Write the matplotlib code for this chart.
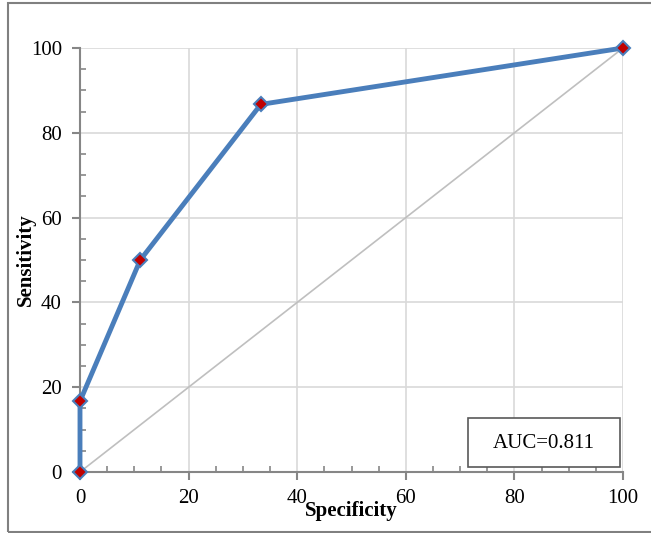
import matplotlib
matplotlib.use("Agg")
import matplotlib.pyplot as plt
from matplotlib.patches import Rectangle
from matplotlib.ticker import MultipleLocator

# ROC points (specificity axis as drawn, sensitivity)
specificity = [0, 0, 11.1, 33.3, 100]
sensitivity = [0, 16.7, 50, 86.7, 100]
ref_line = [0, 100]
auc_text = "AUC=0.811"

plt.rcParams['font.family'] = ['Liberation Serif', 'DejaVu Serif']

fig = plt.figure(figsize=(6.51, 5.33), dpi=100)
ax = fig.add_axes([80/651, 61/533, 543/651, 424/533])

# outer frame (right edge falls outside the picture)
fig.patches.append(Rectangle((8/651, 1/533), 660/651, 529/533, transform=fig.transFigure,
                             fill=False, edgecolor='#808080', linewidth=1.5))

ax.plot(ref_line, ref_line, color='#bfbfbf', linewidth=1.2, zorder=2)
ax.plot(specificity, sensitivity, color='#4a7ebb', linewidth=3.5, zorder=3,
        marker='D', markersize=7, markerfacecolor='#c00000',
        markeredgecolor='#4a7ebb', markeredgewidth=1.5)

ax.set_xlim(0, 100)
ax.set_ylim(0, 100)
ax.xaxis.set_major_locator(MultipleLocator(20))
ax.yaxis.set_major_locator(MultipleLocator(20))
ax.xaxis.set_minor_locator(MultipleLocator(5))
ax.yaxis.set_minor_locator(MultipleLocator(5))
ax.grid(True, which='major', color='#d9d9d9', linewidth=1.2, zorder=0)
ax.set_axisbelow(True)

for s in ['top', 'right']:
    ax.spines[s].set_visible(False)
for s in ['left', 'bottom']:
    ax.spines[s].set_color('#868686')
    ax.spines[s].set_linewidth(1.5)

ax.tick_params(which='major', direction='out', length=6, width=1.5, color='#868686',
               labelsize=15)
ax.tick_params(axis='y', which='major', pad=7)
ax.tick_params(axis='x', which='major', pad=6)
ax.tick_params(which='minor', direction='in', length=4, width=1.2, color='#868686')

ax.set_xlabel('Specificity', fontsize=15, fontweight='bold', labelpad=-5)
ax.set_ylabel('Sensitivity', fontsize=15, fontweight='bold', labelpad=-4)

# AUC box
ax.add_patch(Rectangle((388/543, 5/424), 152/543, 49/424, transform=ax.transAxes,
                       facecolor='white', edgecolor='#595959', linewidth=1.2, zorder=5))
ax.text(464/543, 29/424, auc_text, transform=ax.transAxes, fontsize=15,
        ha='center', va='center', zorder=6)

for line in ax.lines:
    line.set_clip_on(False)

fig.savefig('out.png', dpi=100)
